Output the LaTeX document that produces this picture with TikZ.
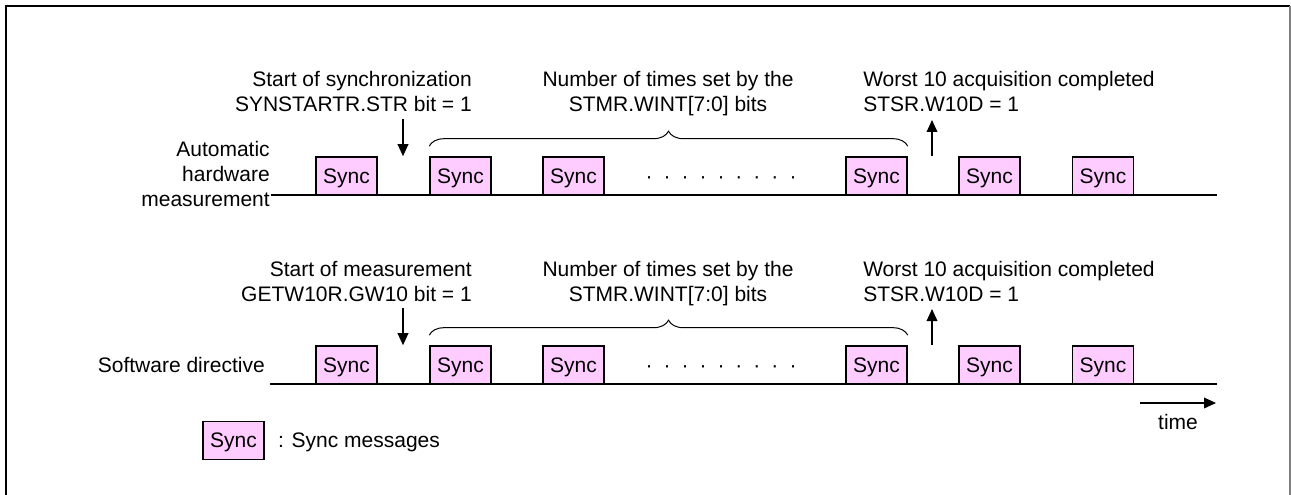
\documentclass[tikz,border=0pt]{standalone}
\usepackage{fontspec}
\setmainfont{Liberation Sans}
\usepackage{xcolor}
\usepackage{tikz}
\usetikzlibrary{positioning, arrows.meta, decorations.pathreplacing}
\definecolor{syncpink}{RGB}{255,204,255}
\newcommand{\dotrun}{\makebox[13.5pt]{·}\makebox[13.5pt]{·}\makebox[13.5pt]{·}\makebox[13.5pt]{·}\makebox[13.5pt]{·}\makebox[13.5pt]{·}\makebox[13.5pt]{·}\makebox[13.5pt]{·}\makebox[13.5pt]{·}}

\begin{document}
\begin{tikzpicture}[
        x=0.75pt, y=-0.75pt,
        every node/.style={font=\fontsize{15.75pt}{18.75pt}\selectfont, inner sep=0pt},
        sync/.style={draw, line width=1.2pt, fill=syncpink, minimum width=45.75pt, minimum height=28.5pt, text depth=0pt},
        note/.style={align=right, anchor=base east},
        arrow/.style={-{Triangle[length=9pt, width=8pt]}, line width=1.1pt},
        timeline/.style={line width=1.2pt}
    ]
        \useasboundingbox (0,0) rectangle (1291,495);
        % Frame
        \draw[line width=2pt] (6,495) -- (6,6) -- (1290,6);
        \draw[gray, line width=0.8pt] (1290,6) -- (1290,495);

        % Nodes: automatic hardware measurement
        \node (hwName) at (270,207) [note] {Automatic\\hardware\\measurement};
        \node (hw1) at (346.5,176) [sync] {Sync};
        \node (hw2) at (460.5,176) [sync] {Sync};
        \node (hw3) at (573.5,176) [sync] {Sync};
        \node (hwDots) at (721,183.5) [anchor=base] {\dotrun};
        \node (hw4) at (876.5,176) [sync] {Sync};
        \node (hw5) at (989.5,176) [sync] {Sync};
        \node (hw6) at (1103,176) [sync] {Sync};
        \node (hwStartText) at (472,112) [note] {Start of synchronization\\SYNSTARTR.STR bit = 1};
        \node (hwCount) at (668,112) [align=center, anchor=base] {Number of times set by the\\STMR.WINT[7:0] bits};
        \node (hwDoneText) at (863,112) [align=left, anchor=base west] {Worst 10 acquisition completed\\STSR.W10D = 1};
        \coordinate (hwStart) at (403,119);
        \coordinate (hwDone) at (932,120);
        \coordinate (hwFrom) at (271,195);
        \coordinate (hwEnd) at (1217,195);

        % Nodes: software directive
        \node (swName) at (265,372.6) [anchor=base east] {Software directive};
        \node (sw1) at (346.5,365) [sync] {Sync};
        \node (sw2) at (460.5,365) [sync] {Sync};
        \node (sw3) at (573.5,365) [sync] {Sync};
        \node (swDots) at (721,372.5) [anchor=base] {\dotrun};
        \node (sw4) at (876.5,365) [sync] {Sync};
        \node (sw5) at (989.5,365) [sync] {Sync};
        \node (sw6) at (1103,365) [sync] {Sync};
        \node (swStartText) at (472,301) [note] {Start of measurement\\GETW10R.GW10 bit = 1};
        \node (swCount) at (668,301) [align=center, anchor=base] {Number of times set by the\\STMR.WINT[7:0] bits};
        \node (swDoneText) at (863,301) [align=left, anchor=base west] {Worst 10 acquisition completed\\STSR.W10D = 1};
        \coordinate (swStart) at (403,308);
        \coordinate (swDone) at (932,309);
        \coordinate (swFrom) at (270,384);
        \coordinate (swEnd) at (1217,384);

        % Time and legend
        \coordinate (timeFrom) at (1140,403);
        \coordinate (timeTo) at (1216,403);
        \node (timeText) at (1178,429) [anchor=base] {time};
        \node (legendBox) at (233.5,440.5) [sync] {Sync};
        \node (legendText) [right=9.75pt of legendBox, text depth=0pt] {: Sync messages};

    \begin{scope}[line cap=butt]
        % Connections
        \draw[timeline] (hwFrom) -- (hwEnd);
        \draw[timeline] (swFrom) -- (swEnd);
        \draw[arrow] (hwStart) -- (hwStart |- hw1.north);
        \draw[arrow] (hwDone |- hw4.north) -- (hwDone);
        \draw[arrow] (swStart) -- (swStart |- sw1.north);
        \draw[arrow] (swDone |- sw4.north) -- (swDone);
        \draw[arrow] (timeFrom) -- (timeTo);
        \draw[decorate, decoration={brace, amplitude=11.25pt}, line width=0.75pt]
            ([yshift=7.5pt]hw2.north west) -- ([yshift=7.5pt]hw4.north east);
        \draw[decorate, decoration={brace, amplitude=11.25pt}, line width=0.75pt]
            ([yshift=7.5pt]sw2.north west) -- ([yshift=7.5pt]sw4.north east);
    \end{scope}
\end{tikzpicture}
\end{document}
